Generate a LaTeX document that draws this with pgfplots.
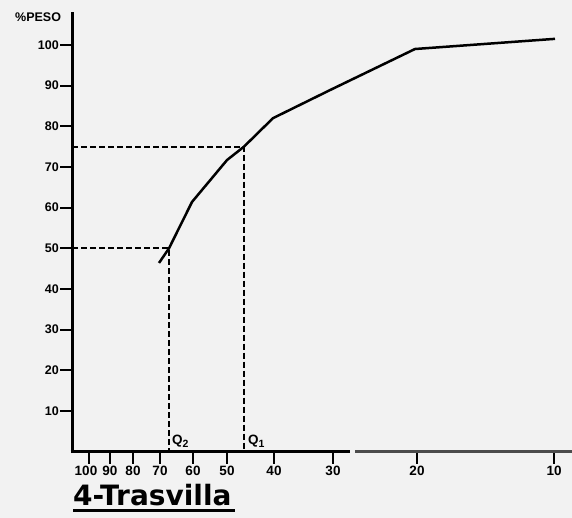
\documentclass[border=0pt]{standalone}
\usepackage{pgfplots}
\pgfplotsset{compat=1.18}
\usepackage{fontspec}
\setmainfont{Liberation Sans}
\newfontfamily\capfont{DejaVu Sans}
\begin{document}
\begin{tikzpicture}[x=1pt,y=1pt]
\fill[black!5] (0,0) rectangle (572,-518);
\path[use as bounding box] (0,0) rectangle (572,-518);
\begin{axis}[
  at={(72pt,-451.7pt)}, anchor=south west,
  scale only axis, width=500pt, height=439.7pt,
  xmin=72, xmax=572, ymin=0, ymax=108.1,
  axis x line*=bottom,
  axis y line*=left,
  x axis line style={draw=none},
  y axis line style={line width=3pt, -, shorten <=-1.5pt},
  /pgf/number format/assume math mode=true,
  ytick={10,20,...,100},
  xtick={89,110,133,160,193,227,274,333,417,554},
  xticklabels={{\kern-6pt 100},90,80,70,60,50,40,30,20,10},
  tick style={line width=1.8pt, black},
  major tick length=12pt,
  tick align=outside,
  yticklabel style={font=\bfseries\fontsize{12.5}{12.5}\selectfont, inner sep=1pt},
  xticklabel style={font=\bfseries\fontsize{13.5}{13.5}\selectfont, inner sep=1pt, yshift=-1.5pt},
  clip=false,
]
\addplot[black, line width=1.8pt, dash pattern=on 6pt off 3pt] coordinates {(72,75) (244,75) (244,0)};
\addplot[black, line width=1.8pt, dash pattern=on 6pt off 3pt] coordinates {(72,50) (169,50) (169,0)};
\addplot[black, line width=2.5pt, line join=round] coordinates {
 (159,46.4) (169,50) (192,61.4) (227,71.7) (244,75) (273,82.0) (330,88.9) (415,99.0) (555,101.5)};
\draw[line width=3pt] (axis cs:70.5,0) -- (axis cs:350,0);
\draw[line width=2.6pt, black!70] (axis cs:355,0) -- (axis cs:572,0);
\end{axis}
\node[font=\bfseries\fontsize{12.5}{12.5}\selectfont, anchor=base west, inner sep=0] at (15,-22) {\%PESO};
\node[font=\bfseries\fontsize{13.5}{13.5}\selectfont, anchor=base west, inner sep=0] at (172,-444) {Q\raisebox{-3pt}{\fontsize{10.5}{10.5}\selectfont 2}};
\node[font=\bfseries\fontsize{13.5}{13.5}\selectfont, anchor=base west, inner sep=0] at (248,-444) {Q\raisebox{-3pt}{\fontsize{10.5}{10.5}\selectfont 1}};
\node[font=\capfont\bfseries\fontsize{28}{28}\selectfont, anchor=base west, inner sep=0] at (73,-505) {4-Trasvilla};
\draw[line width=2.2pt] (73,-510.5) -- (235,-510.5);
\end{tikzpicture}
\end{document}
